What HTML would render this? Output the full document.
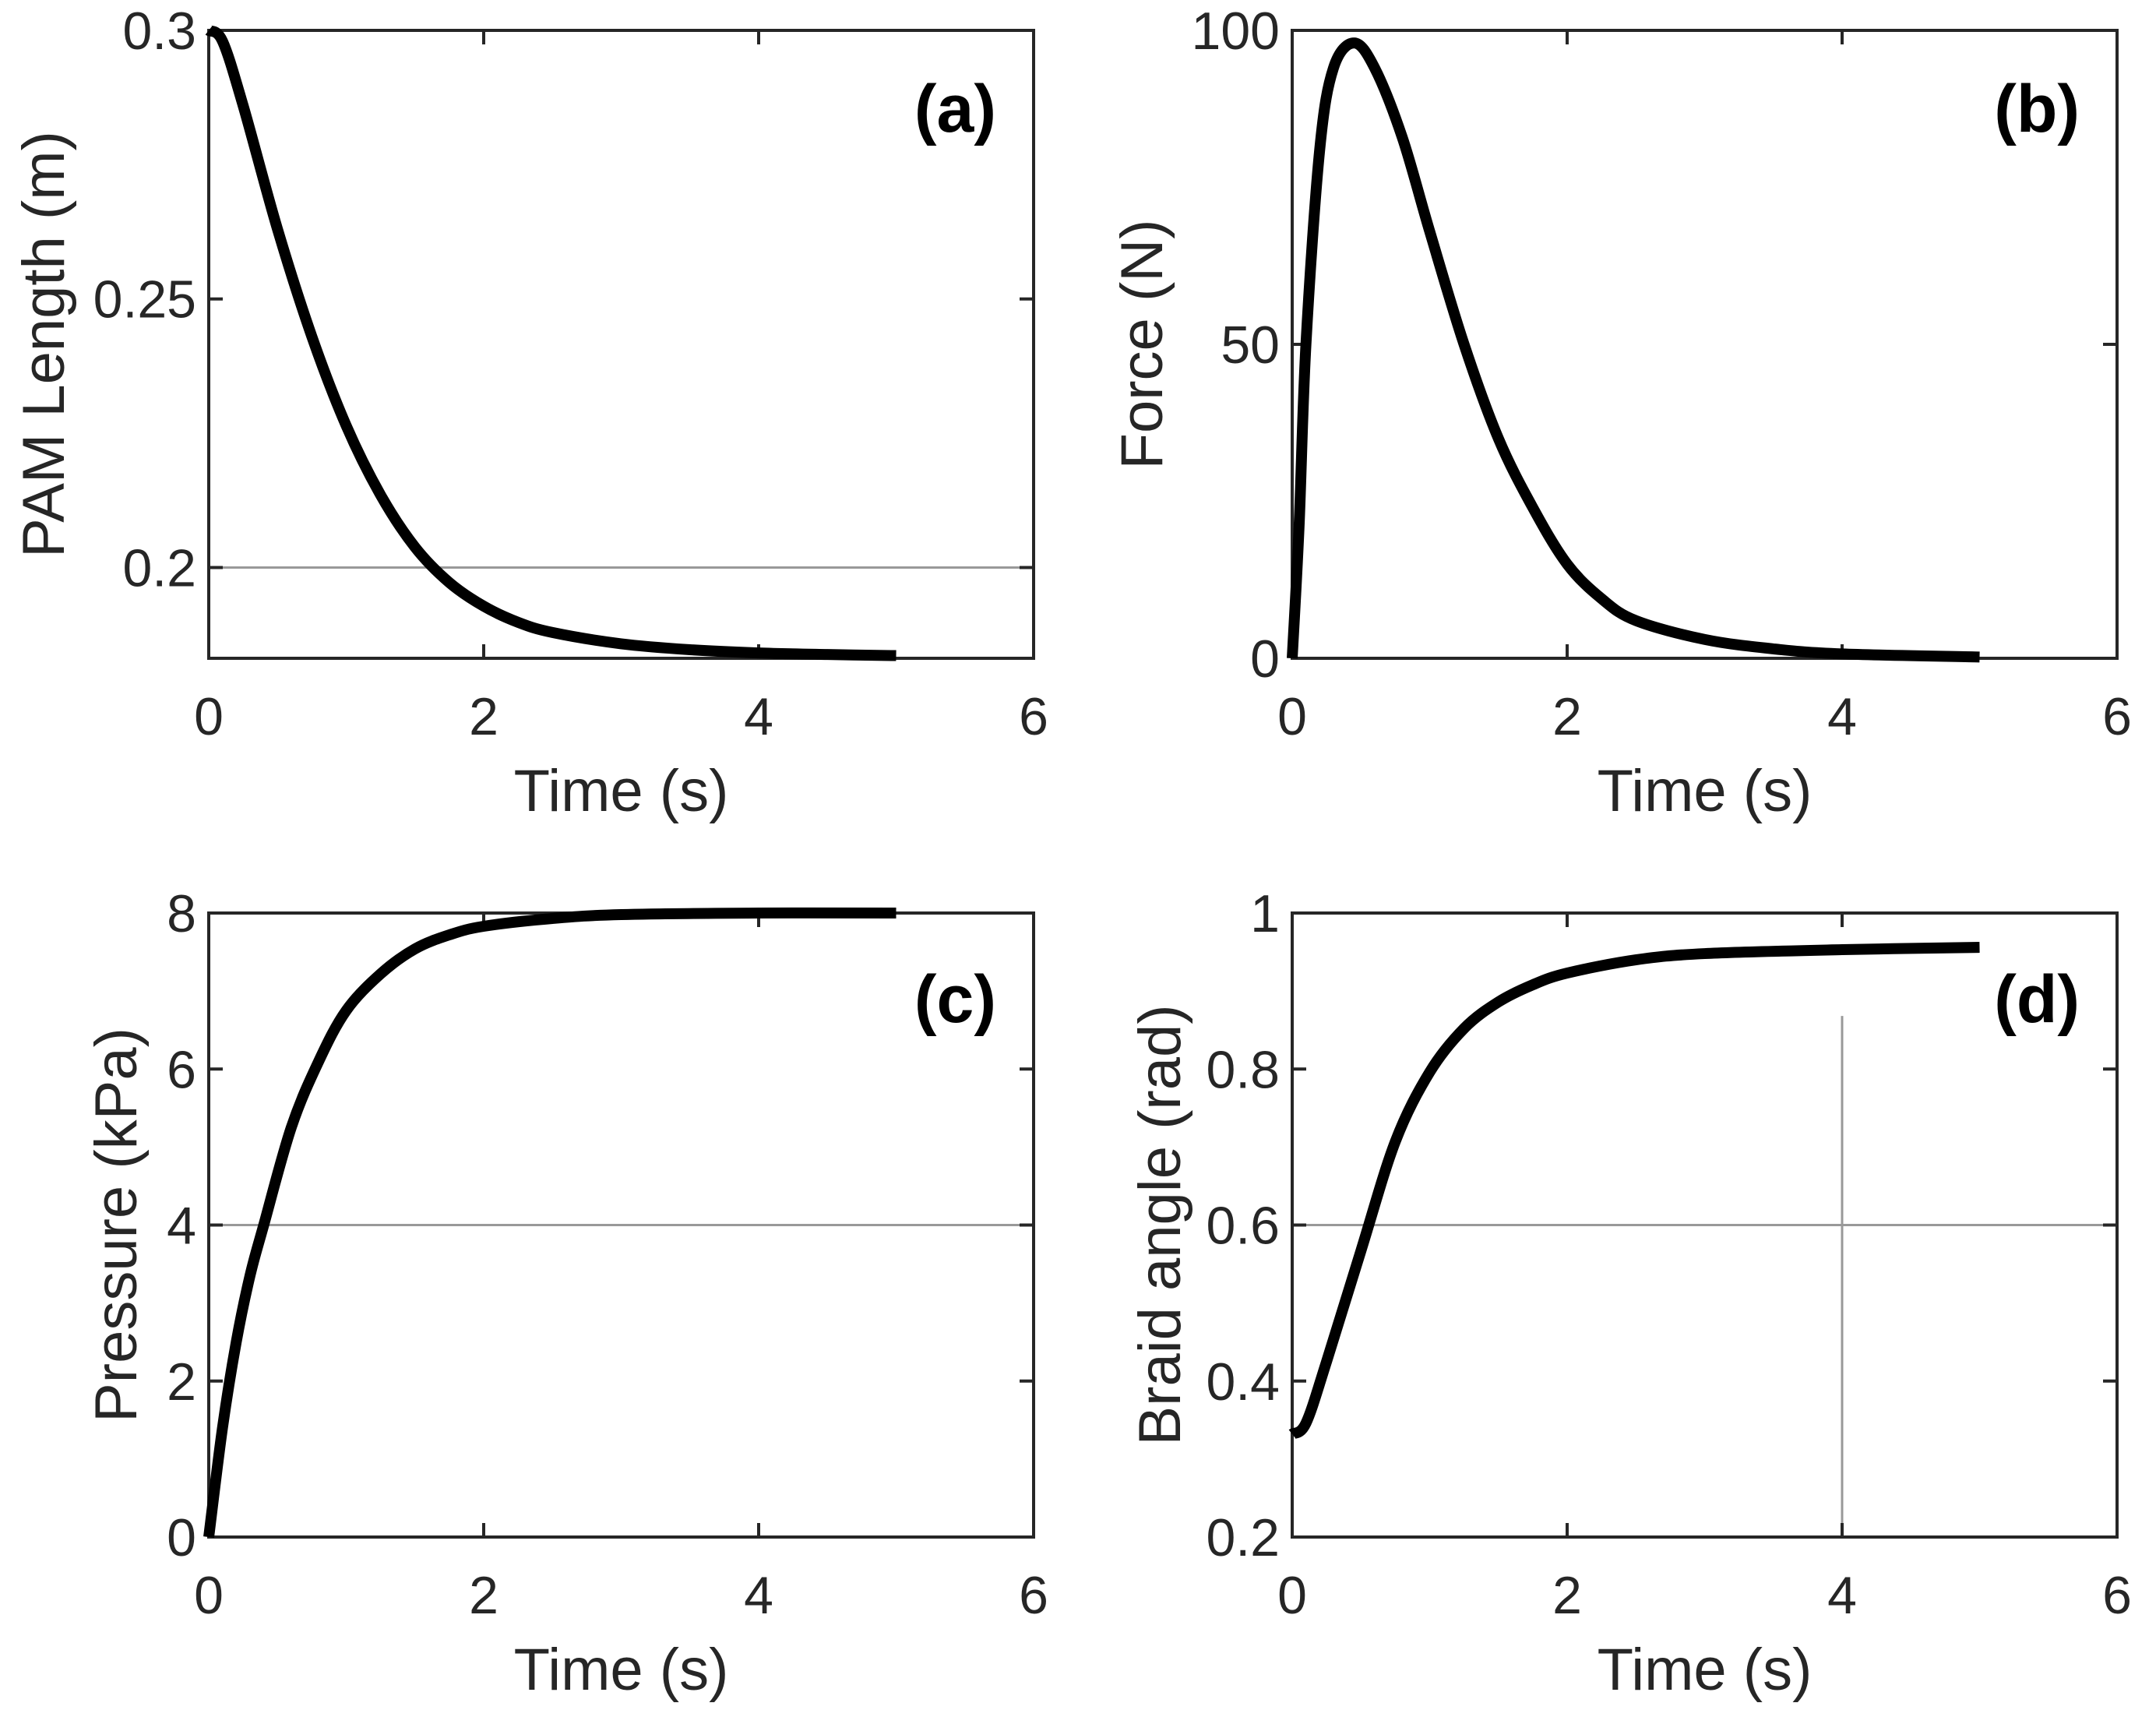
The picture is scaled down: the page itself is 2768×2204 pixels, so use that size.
<!DOCTYPE html>
<html><head><meta charset="utf-8"><style>
html,body{margin:0;padding:0;background:#fff;}
svg{display:block;font-family:"Liberation Sans",Arial,sans-serif;}
</style></head><body>
<svg id="fig" width="2768" height="2204" viewBox="0 0 2768 2204" xmlns="http://www.w3.org/2000/svg"></svg>
<script>
const timeA=[0,0.1,0.25,0.5,0.75,1,1.25,1.5,1.75,2,2.25,2.5,3,3.5,4,4.5,5];
const lengthA=[0.3,0.298,0.286,0.263,0.243,0.2264,0.2135,0.2038,0.1972,0.1928,0.1898,0.1879,0.1858,0.1847,0.1841,0.1838,0.1836];
const timeB=[0,0.05,0.1,0.2,0.3,0.45,0.6,0.8,1,1.25,1.5,1.75,2,2.25,2.5,3,3.5,4,5];
const forceB=[0,21,50,81,94,98,94,83,68,50,35,24,15,9.5,6,3,1.5,0.7,0.2];
const timeC=[0,0.1,0.2,0.3,0.4,0.6,0.8,1,1.25,1.5,1.75,2,2.5,3,4,5];
const pressureC=[0,1.4,2.5,3.35,4,5.25,6.1,6.75,7.22,7.54,7.72,7.83,7.93,7.98,8,8];
const timeD=[0,0.1,0.25,0.5,0.75,1,1.25,1.5,1.75,2,2.5,3,4,5];
const angleD=[0.332,0.346,0.425,0.567,0.707,0.796,0.852,0.886,0.908,0.923,0.94,0.948,0.953,0.956];
const xTicks=[0,2,4,6];
const yTicksA=[0.2,0.25,0.3], yTickLabelsA=["0.2","0.25","0.3"];
const yTicksB=[0,50,100], yTickLabelsB=["0","50","100"];
const yTicksC=[0,2,4,6,8], yTickLabelsC=["0","2","4","6","8"];
const yTicksD=[0.2,0.4,0.6,0.8,1], yTickLabelsD=["0.2","0.4","0.6","0.8","1"];

const NS="http://www.w3.org/2000/svg";
const svg=document.getElementById('fig');
function mk(tag,attrs,parent){const e=document.createElementNS(NS,tag);for(const k in attrs)e.setAttribute(k,attrs[k]);(parent||svg).appendChild(e);return e;}
function spline(pts){let d=`M${pts[0][0]},${pts[0][1]}`;for(let i=0;i<pts.length-1;i++){const p0=pts[Math.max(0,i-1)],p1=pts[i],p2=pts[i+1],p3=pts[Math.min(pts.length-1,i+2)];const c1=[p1[0]+(p2[0]-p0[0])/6,p1[1]+(p2[1]-p0[1])/6],c2=[p2[0]-(p3[0]-p1[0])/6,p2[1]-(p3[1]-p1[1])/6];d+=` C${c1[0]},${c1[1]} ${c2[0]},${c2[1]} ${p2[0]},${p2[1]}`;}return d;}

function panel(cfg){
  const g=mk('g',{});
  
  
  const {L,R,T,B,ymin,ymax}=cfg;
  const sx=v=>L+(v-0)/6*(R-L), sy=v=>B-(v-ymin)/(ymax-ymin)*(B-T);
  (cfg.hgrid||[]).forEach(v=>{const l=mk('line',{x1:L,x2:R,y1:sy(v),y2:sy(v),stroke:'#999',"stroke-width":3},g);});
  if(cfg.vgrid){const l=mk('line',{x1:sx(cfg.vgrid[0]),x2:sx(cfg.vgrid[0]),y1:sy(cfg.vgrid[1]),y2:B,stroke:'#999',"stroke-width":3},g);}
  xTicks.forEach(v=>{const x=sx(v);mk('line',{x1:x,x2:x,y1:B,y2:B-18,stroke:'#262626','stroke-width':4},g);mk('line',{x1:x,x2:x,y1:T,y2:T+18,stroke:'#262626','stroke-width':4},g);
    const t=mk('text',{x:x,y:B+98,'font-size':68,'text-anchor':'middle',fill:'#262626'},g);t.textContent=v;});
  cfg.yt.forEach((v,i)=>{const y=sy(v);mk('line',{x1:L,x2:L+18,y1:y,y2:y,stroke:'#262626','stroke-width':4},g);mk('line',{x1:R,x2:R-18,y1:y,y2:y,stroke:'#262626','stroke-width':4},g);
    const t=mk('text',{x:L-16,y:y+24,'font-size':68,'text-anchor':'end',fill:'#262626'},g);t.textContent=cfg.ytl[i];});
  const box=mk('rect',{x:L,y:T,width:R-L,height:B-T,fill:'none',stroke:'#262626','stroke-width':4},g);
  
  const pts=cfg.xs.map((x,i)=>[sx(x),sy(cfg.ys[i])]);
  const p=mk('path',{d:spline(pts),fill:'none',stroke:'#000','stroke-width':14,'stroke-linejoin':'round'},g);
  
  const xl=mk('text',{x:(L+R)/2,y:B+196,'font-size':76,'text-anchor':'middle',fill:'#262626'},g);xl.textContent='Time (s)';
  
  const yl=mk('text',{x:0,y:0,'font-size':76,'text-anchor':'middle',fill:'#262626',transform:`translate(${cfg.ylx},${(T+B)/2}) rotate(-90)`},g);yl.textContent=cfg.ylabel;
  
  const pl=mk('text',{x:R-48,y:T+(cfg.plOff||130),'font-size':86,'font-weight':'bold','text-anchor':'end',fill:'#000'},g);pl.textContent=cfg.pl;
  
}
const L1=268,R1=1327,L2=1659,R2=2718,T1=39,B1=845,T2=1172,B2=1973;
panel({name:'panel-a',L:L1,R:R1,T:T1,B:B1,ymin:0.1831,ymax:0.3,yt:yTicksA,ytl:yTickLabelsA,xs:timeA,ys:lengthA,hgrid:[0.2],ylabel:'PAM Length (m)',ylx:82,pl:'(a)'});
panel({name:'panel-b',L:L2,R:R2,T:T1,B:B1,ymin:0,ymax:100,yt:yTicksB,ytl:yTickLabelsB,xs:timeB,ys:forceB,ylabel:'Force (N)',ylx:1492,pl:'(b)'});
panel({name:'panel-c',L:L1,R:R1,T:T2,B:B2,ymin:0,ymax:8,yt:yTicksC,ytl:yTickLabelsC,xs:timeC,ys:pressureC,hgrid:[4],ylabel:'Pressure (kPa)',ylx:175,pl:'(c)',plOff:140});
panel({name:'panel-d',L:L2,R:R2,T:T2,B:B2,ymin:0.2,ymax:1,yt:yTicksD,ytl:yTickLabelsD,xs:timeD,ys:angleD,hgrid:[0.6],vgrid:[4,0.868],ylabel:'Braid angle (rad)',ylx:1515,pl:'(d)',plOff:140});
</script>
</body></html>
